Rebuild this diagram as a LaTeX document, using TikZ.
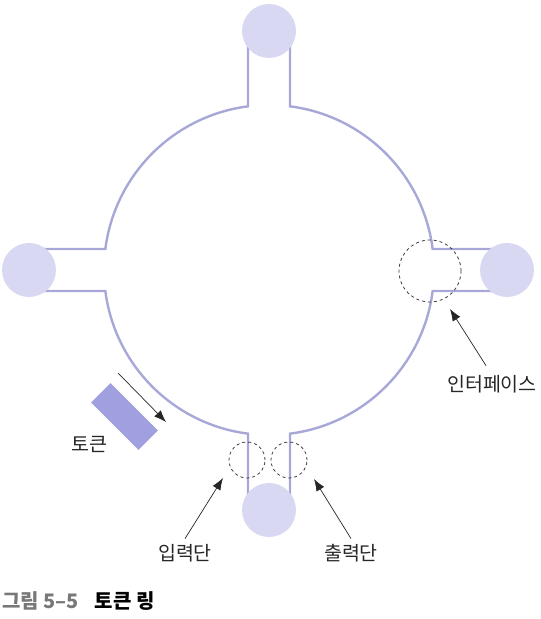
\documentclass[tikz,border=0pt]{standalone}
\usepackage{fontspec}
\setmainfont{Noto Sans CJK KR}
\usetikzlibrary{arrows.meta}
\definecolor{ringline}{RGB}{168,168,216}
\definecolor{portfill}{RGB}{216,216,242}
\definecolor{tokenfill}{RGB}{160,160,224}
\definecolor{capgray}{RGB}{120,120,120}
\def\R{165}
\def\w{21}

\begin{document}
\begin{tikzpicture}[x=1pt, y=1pt,
	port/.style={circle, fill=portfill, minimum size=54pt, inner sep=0pt},
	probe/.style={circle, draw=black!80, dashed, line width=0.75pt, inner sep=0pt},
	pointer/.style={-{Latex[length=12pt,width=9pt]}, line width=0.7pt, black!85},
	lbl/.style={font=\fontsize{19.5}{22}\selectfont, text=black!85}]
			%%%%% START %%%%%
			\useasboundingbox (0, 0) rectangle (541, 619);
			\coordinate (c) at (269, 349);
			
			% ring with four stubs
			\foreach \a in {0, 90, 180, 270}{
				\begin{scope}[shift={(c)}, rotate=\a]
					\draw[ringline, line width=2.4pt] (-\w, 239) -- (-\w, 163.66) arc (97.31:172.69:\R) -- (-239, \w);
				\end{scope}
			}
			
			\node[port] (ptop) at (269, 588) {};
			\node[port] (pleft) at (29, 349) {};
			\node[port] (pright) at (507, 349) {};
			\node[port] (pbottom) at (269, 109) {};
			
			% interface and in/out marks
			\node[probe, minimum size=62pt] (iface) at (430, 348) {};
			\node[probe, minimum size=36pt] (inport) at (247, 159) {};
			\node[probe, minimum size=36pt] (outport) at (289, 159) {};
			
			\coordinate (ifacetip) at (450, 310);
			\coordinate (intip) at (223, 141);
			\coordinate (outtip) at (314, 140);
			
			\node[lbl] (ifacelbl) at (492, 235) {인터페이스};
			\node[lbl] (inlbl) at (185, 66) {입력단};
			\node[lbl] (outlbl) at (351, 66) {출력단};
			
			\draw[pointer] ([xshift=-6pt, yshift=6pt]ifacelbl.north) -- (ifacetip);
			\draw[pointer] ([yshift=2pt]inlbl.north) -- (intip);
			\draw[pointer] ([yshift=2pt]outlbl.north) -- (outtip);
			
			% token
			\node[fill=tokenfill, rotate=-45, minimum width=67pt, minimum height=27.5pt, inner sep=0pt] (token) at (124.5, 202.5) {};
			\coordinate (tokfrom) at (118, 246);
			\coordinate (tokto) at (166, 197);
			\draw[pointer] (tokfrom) -- (tokto);
			\node[lbl] (toklbl) at (89, 175) {토큰};
			
			% caption
			\node[anchor=west, inner sep=0pt, font=\fontsize{20}{22}\selectfont\bfseries] (cap) at (2, 17.5) {\textcolor{capgray}{그림 5--5}\hspace{16pt}토큰 링};
			%%%%% END %%%%%
\end{tikzpicture}
\end{document}
